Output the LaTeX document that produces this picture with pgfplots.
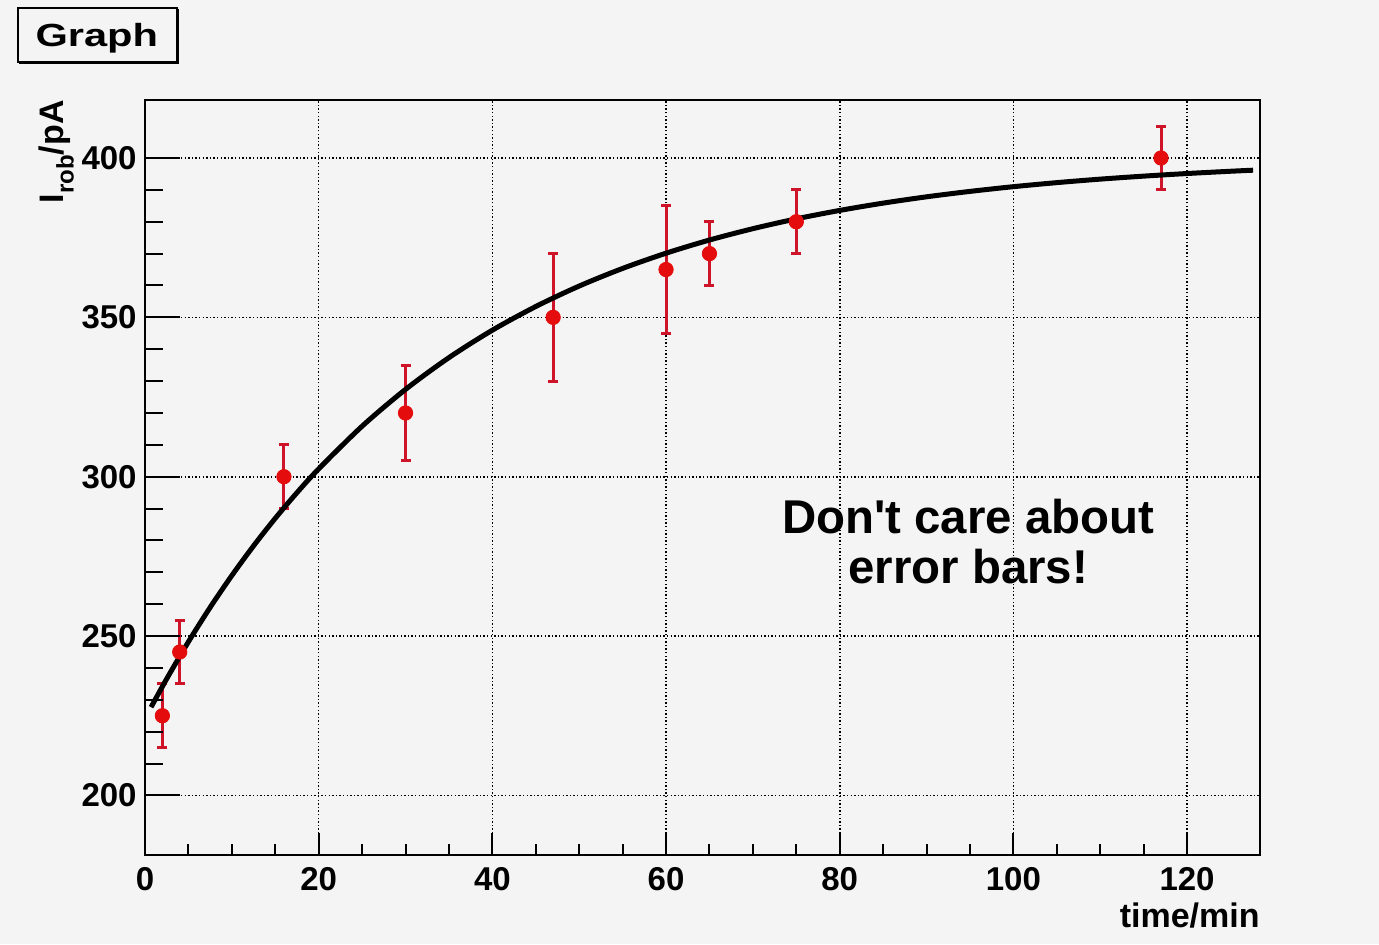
\documentclass[border=0pt]{standalone}
\usepackage{fontspec}
\setmainfont{Liberation Sans}
\usepackage{pgfplots}
\pgfplotsset{compat=1.18}
\usepackage{pgfplotstable}
\definecolor{bg}{RGB}{244,244,244}
\definecolor{ptred}{RGB}{228,12,12}
\definecolor{barred}{RGB}{205,20,40}

\pgfplotstableread{
x y ey
2 225 10
4 245 10
16 300 10
30 320 15
47 350 20
60 365 20
65 370 10
75 380 10
117 400 10
}\datatable

\pgfplotstableread{
x y
0.7 227.69
2.5 236.59
5 248.20
7.5 258.98
10 268.99
12.5 278.30
15 286.95
17.5 294.99
20 302.45
25 315.84
30 327.39
35 337.36
40 345.97
45 353.40
50 359.82
55 365.35
60 370.13
65 374.26
70 377.82
75 380.90
80 383.55
85 385.84
90 387.82
95 389.52
100 391.00
105 392.27
110 393.37
115 394.31
120 395.13
125 395.84
127.6 396.17
}\fittable

\pgfplotsset{myaxis/.style={
  at={(72.5pt,44.5pt)}, anchor=south west,
  scale only axis, width=557.5pt, height=377.5pt,
  xmin=0, xmax=128.4, ymin=181.3, ymax=418.2,
  axis line style={line width=1pt},
  xtick pos=bottom, ytick pos=left, tick align=inside,
}}

\begin{document}
\begin{tikzpicture}
\useasboundingbox (0,0) rectangle (689.5pt,472pt);
\fill[bg] (0,0) rectangle (689.5pt,472pt);
% title box
\draw[line width=0.9pt, fill=bg] (9pt,441pt) rectangle (88.5pt,468pt);
\draw[line width=0.9pt] (9.5pt,440.3pt) -- (89.2pt,440.3pt) -- (89.2pt,467.5pt);
\node[anchor=base west, inner sep=0pt, xscale=1.3, font=\fontsize{16}{16}\selectfont\bfseries] at (17.5pt,448.5pt) {Graph};

\begin{axis}[myaxis,
  clip=false,
  xtick={0,20,...,120}, ytick={200,250,...,400},
  minor x tick num=3, minor y tick num=4,
  major tick length=11pt, minor tick length=5.5pt,
  tick style={line width=1pt, black},
  grid=major, major grid style={black, line width=0.8pt, dash pattern=on 0.7pt off 1.1pt},
  ticklabel style={font=\fontsize{16.5}{18}\selectfont\bfseries},
  /pgf/number format/assume math mode=true,
  xticklabel style={anchor=north, inner sep=0pt, yshift=-6pt},
  yticklabel style={anchor=east, inner sep=0pt, xshift=-4pt},
]
\addplot[only marks, mark=*, mark size=3.6pt, color=ptred,
  mark options={fill=ptred, draw=ptred},
  error bars/.cd, y dir=both, y explicit,
  error bar style={line width=1.5pt, barred},
  error mark options={rotate=90, line width=1.5pt, barred, mark size=2.5pt}]
  table[x=x, y=y, y error=ey]{\datatable};
\addplot[black, line width=2.5pt, smooth] table[x=x, y=y]{\fittable};

\node[font=\fontsize{23.7}{24}\selectfont\bfseries, anchor=base] at (axis cs:94.8,282.3) {Don\textquotesingle t care about};
\node[font=\fontsize{23.7}{24}\selectfont\bfseries, anchor=base] at (axis cs:94.8,266.6) {error bars!};

\node[rotate=90, anchor=base east, inner sep=0pt, font=\fontsize{17}{17}\selectfont\bfseries] at (axis description cs:-0.0731,1) {I\raisebox{-0.3em}{\fontsize{12}{12}\selectfont rob}/pA};
\node[anchor=base east, inner sep=0pt, font=\fontsize{17}{17}\selectfont\bfseries] at (axis description cs:1,-0.0954) {time/min};
\end{axis}

\begin{axis}[myaxis,
  xtick=\empty, ytick={200,250,...,400}, minor y tick num=4,
  major tick length=17.5pt, minor tick length=9pt,
  tick style={line width=1pt, black},
  yticklabels={},
]
\end{axis}
\end{tikzpicture}
\end{document}
